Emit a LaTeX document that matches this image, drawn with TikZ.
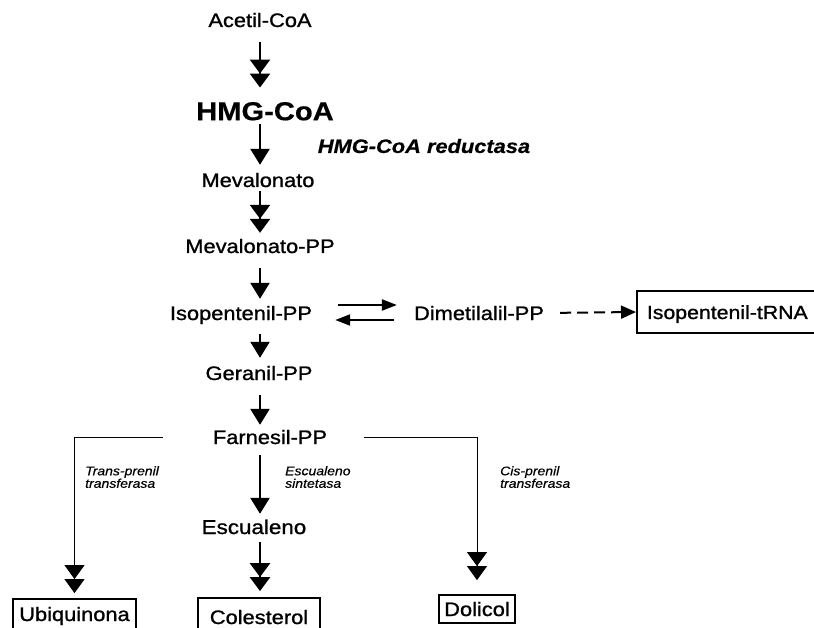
\documentclass[tikz,border=0pt]{standalone}
\usepackage{fontspec}
\setmainfont{Liberation Sans}[FakeStretch=1.12,
  UprightFeatures={FakeBold=1.1},
  BoldFeatures={FakeBold=0.5},
  BoldItalicFeatures={FakeBold=0.5},
  ItalicFeatures={FakeBold=0.4}]
\usetikzlibrary{arrows.meta}

\begin{document}
\begin{tikzpicture}[x=1pt,y=-1pt,
  txt/.style={inner sep=0pt, text height=14pt, text depth=0pt,
    font=\fontsize{19.5}{20}\selectfont},
  big/.style={inner sep=0pt, text height=18.5pt, text depth=0pt,
    font=\fontsize{26}{27}\selectfont\bfseries},
  enz/.style={inner sep=0pt, font=\fontsize{19.5}{20}\selectfont\bfseries\itshape},
  small/.style={inner sep=0pt, anchor=north west, align=left,
    font=\fontsize{12.5}{12.5}\selectfont\itshape},
  endbox/.style={draw, line width=1.8pt, inner sep=0pt, text height=14pt,
    text depth=0pt, font=\fontsize{19.5}{20}\selectfont},
  sarrow/.style={line width=2.4pt, -{Triangle[width=19pt,length=16pt]}},
  darrow/.style={line width=2.4pt,
    -{Triangle[width=20pt,length=14pt]Triangle[width=20pt,length=14pt]}},
  eqarrow/.style={line width=2.2pt, -{Triangle[width=11pt,length=15pt]}},
  branch/.style={line width=0.9pt,
    -{Triangle[width=20pt,length=14pt]Triangle[width=20pt,length=14pt]}},
]
\clip (0,0) rectangle (814,628);
\fill[white] (0,0) rectangle (814,628);

% main pathway column
\coordinate (axis) at (260,0);
\node[txt] (acetil) at (260,20) {Acetil-CoA};
\node[big] (hmg) at (265,111) {HMG-CoA};
\node[enz] (red) at (424,146) {HMG-CoA reductasa};
\node[txt] (mev) at (258,180) {Mevalonato};
\node[txt] (mpp) at (260,246) {Mevalonato-PP};
\node[txt] (ipp) at (241,313) {Isopentenil-PP};
\node[txt] (dma) at (479,313) {Dimetilalil-PP};
\node[endbox, anchor=west, minimum height=42pt, minimum width=200pt,
  text width=190pt, align=left, font=\fontsize{19}{20}\selectfont]
  (trna) at (636,312) {\hspace*{5pt}Isopentenil-tRNA};
\node[txt] (ger) at (259,373) {Geranil-PP};
\node[txt] (fpp) at (270,437) {Farnesil-PP};
\node[txt, font=\fontsize{20}{21}\selectfont] (esc) at (254,527) {Escualeno};

% end products
\node[endbox, minimum width=123pt, minimum height=30pt] (ubi) at (74.5,614) {Ubiquinona};
\node[endbox, minimum width=122pt, minimum height=38pt] (col) at (259,617) {Colesterol};
\node[endbox, minimum width=76pt, minimum height=28pt] (dol) at (477,609) {Dolicol};

% enzyme labels on the branches
\node[small] (trans) at (85,466) {Trans-prenil\\transferasa};
\node[small] (esin) at (285,466) {Escualeno\\sintetasa};
\node[small] (cis) at (500,466) {Cis-prenil\\transferasa};

% arrows down the column
\draw[darrow, shorten <=15pt, shorten >=14pt] (acetil.south -| axis) -- (hmg.north -| axis);
\draw[sarrow, shorten <=4pt, shorten >=8pt] (hmg.south -| axis) -- (mev.north -| axis);
\draw[darrow, shorten <=4pt, shorten >=6pt] (mev.south -| axis) -- (mpp.north -| axis);
\draw[sarrow, shorten <=15pt, shorten >=7pt] (mpp.south -| axis) -- (ipp.north -| axis);
\draw[sarrow, shorten <=14pt, shorten >=8pt] (ipp.south -| axis) -- (ger.north -| axis);
\draw[sarrow, shorten <=15pt, shorten >=5pt] (ger.south -| axis) -- (fpp.north -| axis);
\draw[sarrow, shorten <=11pt, shorten >=6pt] (fpp.south -| axis) -- (esc.north -| axis);
\draw[darrow, shorten <=8pt, shorten >=6pt] (esc.south -| axis) -- (col.north -| axis);

% isomerisation equilibrium and side route
\draw[eqarrow, shorten <=26pt, shorten >=17pt] ([yshift=8pt]ipp.east) -- ([yshift=8pt]dma.west);
\draw[eqarrow, shorten <=20pt, shorten >=23pt] ([yshift=-7pt]dma.west) -- ([yshift=-7pt]ipp.east);
\draw[line width=2pt, dash pattern=on 11pt off 6pt, -{Triangle[width=13pt,length=15pt]},
  shorten <=16pt] (dma.east) -- (trna.west);

% branches from farnesil-PP
\draw[branch, shorten <=50pt, shorten >=5pt] (fpp.west) -| (ubi.north);
\draw[branch, shorten <=37pt, shorten >=14pt] (fpp.east) -| (dol.north);
\end{tikzpicture}
\end{document}
